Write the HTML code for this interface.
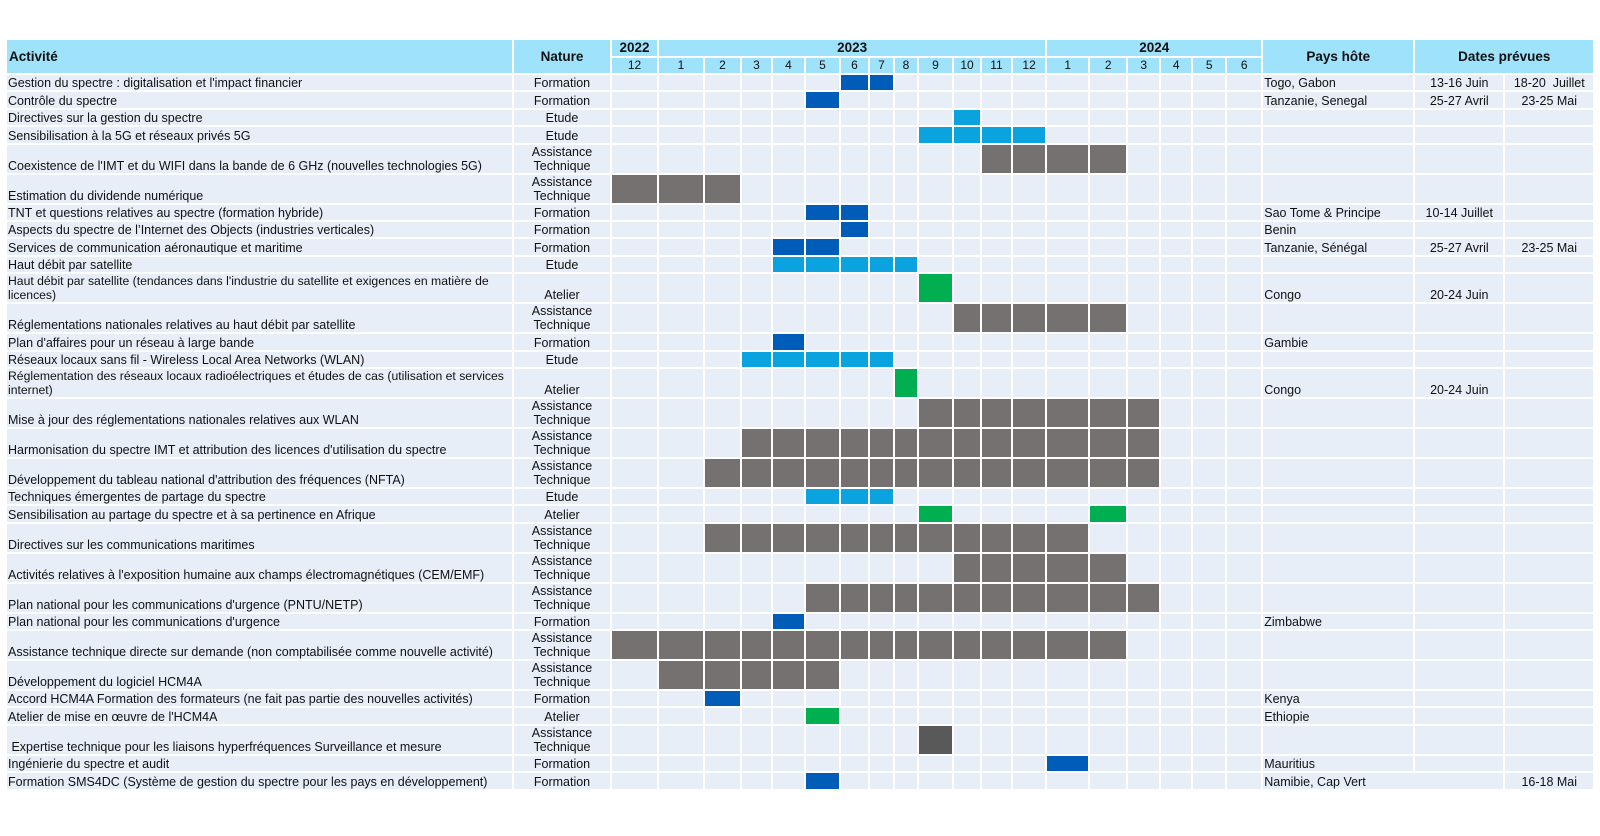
<!DOCTYPE html>
<html><head><meta charset="utf-8">
<style>
html,body{margin:0;padding:0;background:#fff;width:1600px;height:836px;overflow:hidden}
table{position:absolute;left:5px;top:38px;width:1588px;table-layout:fixed;border-collapse:collapse;font-family:"Liberation Sans",sans-serif;font-size:12.5px;color:#111}
td{border:2px solid #fff;background:#e7eef8;padding:0 1px;white-space:nowrap;overflow:hidden;vertical-align:bottom;line-height:14px}
tr.s td{height:15.4px}
tr.d td{height:26.6px}
tr.h td{background:#9fe2fb;font-weight:bold;text-align:center;vertical-align:middle;font-size:13.5px;height:15.5px;padding:0}
tr.h td.m{font-weight:normal;font-size:12px}
td.a{text-align:left}
td.a.w{white-space:normal;line-height:14px;font-size:12.2px;padding-right:0}
td.n{text-align:center}
td.c{text-align:center}
td.p{text-align:left}
td.b{background:#005cb9}
td.l{background:#0aa2df}
td.g{background:#767171}
td.v{background:#00b050}
td.k{background:#595959}
</style></head><body>
<table id="t">
<colgroup>
<col style="width:507px"><col style="width:98px">
<col style="width:47px"><col style="width:46px"><col style="width:37px"><col style="width:31px"><col style="width:33px"><col style="width:35px"><col style="width:29px"><col style="width:25px"><col style="width:24px"><col style="width:35px"><col style="width:28px"><col style="width:31px"><col style="width:34px"><col style="width:43px"><col style="width:38px"><col style="width:33px"><col style="width:32px"><col style="width:34px"><col style="width:36px">
<col style="width:152px"><col style="width:90px"><col style="width:90px">
</colgroup>
<tr class="h"><td rowspan="2" class="a" style="text-align:left;padding-left:2px">Activité</td><td rowspan="2">Nature</td><td>2022</td><td colspan="12">2023</td><td colspan="6">2024</td><td rowspan="2">Pays hôte</td><td rowspan="2" colspan="2">Dates prévues</td></tr>
<tr class="h"><td class="m">12</td><td class="m">1</td><td class="m">2</td><td class="m">3</td><td class="m">4</td><td class="m">5</td><td class="m">6</td><td class="m">7</td><td class="m">8</td><td class="m">9</td><td class="m">10</td><td class="m">11</td><td class="m">12</td><td class="m">1</td><td class="m">2</td><td class="m">3</td><td class="m">4</td><td class="m">5</td><td class="m">6</td></tr>

<tr class="s"><td class="a">Gestion du spectre : digitalisation et l'impact financier</td><td class="n">Formation</td><td class="p">Togo, Gabon</td><td class="c">13-16 Juin</td><td class="c">18-20 &nbsp;Juillet</td></tr>
<tr class="s"><td class="a">Contrôle du spectre</td><td class="n">Formation</td><td class="p">Tanzanie, Senegal</td><td class="c">25-27 Avril</td><td class="c">23-25 Mai</td></tr>
<tr class="s"><td class="a">Directives sur la gestion du spectre</td><td class="n">Etude</td><td></td><td></td><td></td></tr>
<tr class="s"><td class="a">Sensibilisation à la 5G et réseaux privés 5G</td><td class="n">Etude</td><td></td><td></td><td></td></tr>
<tr class="d"><td class="a">Coexistence de l'IMT et du WIFI dans la bande de 6 GHz (nouvelles technologies 5G)</td><td class="n">Assistance<br>Technique</td><td></td><td></td><td></td></tr>
<tr class="d"><td class="a">Estimation du dividende numérique</td><td class="n">Assistance<br>Technique</td><td></td><td></td><td></td></tr>
<tr class="s"><td class="a">TNT et questions relatives au spectre (formation hybride)</td><td class="n">Formation</td><td class="p">Sao Tome &amp; Principe</td><td class="c">10-14 Juillet</td><td></td></tr>
<tr class="s"><td class="a">Aspects du spectre de l’Internet des Objects (industries verticales)</td><td class="n">Formation</td><td class="p">Benin</td><td></td><td></td></tr>
<tr class="s"><td class="a">Services de communication aéronautique et maritime</td><td class="n">Formation</td><td class="p">Tanzanie, Sénégal</td><td class="c">25-27 Avril</td><td class="c">23-25 Mai</td></tr>
<tr class="s"><td class="a">Haut débit par satellite</td><td class="n">Etude</td><td></td><td></td><td></td></tr>
<tr class="d"><td class="a w">Haut débit par satellite (tendances dans l'industrie du satellite et exigences en matière de<br>licences)</td><td class="n">Atelier</td><td class="p">Congo</td><td class="c">20-24 Juin</td><td></td></tr>
<tr class="d"><td class="a">Réglementations nationales relatives au haut débit par satellite</td><td class="n">Assistance<br>Technique</td><td></td><td></td><td></td></tr>
<tr class="s"><td class="a">Plan d'affaires pour un réseau à large bande</td><td class="n">Formation</td><td class="p">Gambie</td><td></td><td></td></tr>
<tr class="s"><td class="a">Réseaux locaux sans fil - Wireless Local Area Networks (WLAN)</td><td class="n">Etude</td><td></td><td></td><td></td></tr>
<tr class="d"><td class="a w" style="white-space:nowrap">Réglementation des réseaux locaux radioélectriques et études de cas (utilisation et services<br>internet)</td><td class="n">Atelier</td><td class="p">Congo</td><td class="c">20-24 Juin</td><td></td></tr>
<tr class="d"><td class="a">Mise à jour des réglementations nationales relatives aux WLAN</td><td class="n">Assistance<br>Technique</td><td></td><td></td><td></td></tr>
<tr class="d"><td class="a">Harmonisation du spectre IMT et attribution des licences d'utilisation du spectre</td><td class="n">Assistance<br>Technique</td><td></td><td></td><td></td></tr>
<tr class="d"><td class="a">Développement du tableau national d'attribution des fréquences (NFTA)</td><td class="n">Assistance<br>Technique</td><td></td><td></td><td></td></tr>
<tr class="s"><td class="a">Techniques émergentes de partage du spectre</td><td class="n">Etude</td><td></td><td></td><td></td></tr>
<tr class="s"><td class="a">Sensibilisation au partage du spectre et à sa pertinence en Afrique</td><td class="n">Atelier</td><td></td><td></td><td></td></tr>
<tr class="d"><td class="a">Directives sur les communications maritimes</td><td class="n">Assistance<br>Technique</td><td></td><td></td><td></td></tr>
<tr class="d"><td class="a">Activités relatives à l'exposition humaine aux champs électromagnétiques (CEM/EMF)</td><td class="n">Assistance<br>Technique</td><td></td><td></td><td></td></tr>
<tr class="d"><td class="a">Plan national pour les communications d'urgence (PNTU/NETP)</td><td class="n">Assistance<br>Technique</td><td></td><td></td><td></td></tr>
<tr class="s"><td class="a">Plan national pour les communications d'urgence</td><td class="n">Formation</td><td class="p">Zimbabwe</td><td></td><td></td></tr>
<tr class="d"><td class="a">Assistance technique directe sur demande (non comptabilisée comme nouvelle activité)</td><td class="n">Assistance<br>Technique</td><td></td><td></td><td></td></tr>
<tr class="d"><td class="a">Développement du logiciel HCM4A</td><td class="n">Assistance<br>Technique</td><td></td><td></td><td></td></tr>
<tr class="s"><td class="a">Accord HCM4A Formation des formateurs (ne fait pas partie des nouvelles activités)</td><td class="n">Formation</td><td class="p">Kenya</td><td></td><td></td></tr>
<tr class="s"><td class="a">Atelier de mise en œuvre de l'HCM4A</td><td class="n">Atelier</td><td class="p">Ethiopie</td><td></td><td></td></tr>
<tr class="d"><td class="a">&nbsp;Expertise technique pour les liaisons hyperfréquences Surveillance et mesure</td><td class="n">Assistance<br>Technique</td><td></td><td></td><td></td></tr>
<tr class="s"><td class="a">Ingénierie du spectre et audit</td><td class="n">Formation</td><td class="p">Mauritius</td><td></td><td></td></tr>
<tr class="s"><td class="a">Formation SMS4DC (Système de gestion du spectre pour les pays en développement)</td><td class="n">Formation</td><td class="p" colspan="2">Namibie, Cap Vert</td><td class="c">16-18 Mai</td></tr>
</table>
<script>
var P=[
"......bb...........",
".....b.............",
"..........l........",
".........llll......",
"...........gggg....",
"ggg................",
".....bb............",
"......b............",
"....bb.............",
"....lllll..........",
".........v.........",
"..........ggggg....",
"....b..............",
"...lllll...........",
"........v..........",
".........ggggggg...",
"...ggggggggggggg...",
"..gggggggggggggg...",
".....lll...........",
".........v....v....",
"..gggggggggggg.....",
"..........ggggg....",
".....ggggggggggg...",
"....b..............",
"ggggggggggggggg....",
".ggggg.............",
"..b................",
".....v.............",
".........k.........",
".............b.....",
".....b............."
];
var rows=document.getElementById('t').rows;
for(var i=0;i<P.length;i++){
  var r=rows[i+2];var ref=r.cells[2];
  for(var j=0;j<19;j++){
    var td=document.createElement('td');
    var ch=P[i][j];
    if(ch!=='.')td.className=ch;
    r.insertBefore(td,ref);
  }
}
</script>
</body></html>
